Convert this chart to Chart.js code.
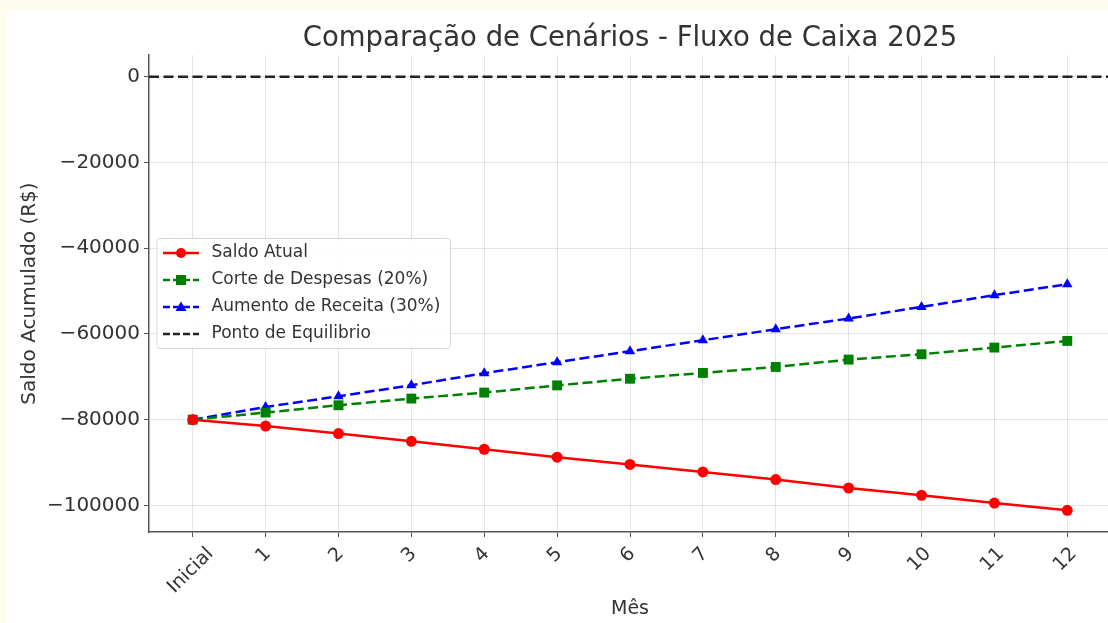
<!DOCTYPE html>
<html>
<head>
<meta charset="utf-8">
<script src="https://cdn.jsdelivr.net/npm/chart.js@4.4.1/dist/chart.umd.min.js"></script>
<style>
  html, body { margin: 0; padding: 0; background: #fdfcee; width: 1108px; height: 623px; overflow: hidden; }
  #box { position: absolute; left: 7px; top: 10px; width: 1111px; height: 613px; background: #fff; }
</style>
</head>
<body>
<div id="box"><canvas id="fluxo" width="1111" height="613"></canvas></div>
<script>
const monthLabels = ['Inicial', '1', '2', '3', '4', '5', '6', '7', '8', '9', '10', '11', '12'];
const saldoAtual = [-80000, -81500, -83250, -85050, -86900, -88750, -90450, -92200, -93980, -95940, -97640, -99440, -101140];
const corteDespesas = [-80000, -78340, -76640, -75080, -73680, -72000, -70450, -69100, -67700, -65980, -64740, -63180, -61630];
const aumentoReceita = [-80000, -77040, -74540, -71970, -69170, -66600, -64030, -61470, -58900, -56400, -53690, -50960, -48390];
const equilibrio = 0;
const yTicks = [0, -20000, -40000, -60000, -80000, -100000];
const xMin = -0.6, xMax = 12.6;
const yMin = -106200, yMax = 5060;

const FONT = 'DejaVu Sans';
const TEXT = '#333';

// legend handles: short line + marker, like the matplotlib legend
function handle(color, dash, marker) {
  const c = document.createElement('canvas');
  c.width = 36; c.height = 16;
  const g = c.getContext('2d');
  g.strokeStyle = color; g.fillStyle = color; g.lineWidth = 2.5;
  g.setLineDash(dash);
  g.beginPath(); g.moveTo(0, 8); g.lineTo(36, 8); g.stroke();
  g.setLineDash([]);
  if (marker === 'circle') { g.beginPath(); g.arc(18, 8, 5, 0, Math.PI * 2); g.fill(); }
  if (marker === 'rect') g.fillRect(13, 3, 10, 10);
  if (marker === 'triangle') { g.beginPath(); g.moveTo(18, 2.5); g.lineTo(23.5, 12); g.lineTo(12.5, 12); g.closePath(); g.fill(); }
  return c;
}
const dashes = [10, 4.5];
const handles = [
  handle('#ff0000', [], 'circle'),
  handle('#008000', [7, 3], 'rect'),
  handle('#0000ff', [7, 3], 'triangle'),
  handle('#222', [7, 3], null)
];

const toPoints = arr => arr.map((v, i) => ({ x: i, y: v }));

// legend in chartArea: move it into the plot box and give it a frame
const legendFrame = {
  id: 'legendFrame',
  afterLayout(chart) {
    const lg = chart.legend;
    if (!lg) return;
    const dy = chart.chartArea.top - lg.top;
    lg.top += dy; lg.bottom += dy;
    (lg.legendHitBoxes || []).forEach(h => { h.top += dy; });
    if (lg._framed) return;
    const orig = lg.draw.bind(lg);
    lg.draw = function (area) {
      const hb = lg.legendHitBoxes;
      if (hb && hb.length) {
        const l = Math.min(...hb.map(h => h.left)) - 2;
        const t = Math.min(...hb.map(h => h.top)) - 6;
        const r = Math.max(...hb.map(h => h.left + h.width)) + 10;
        const b = Math.max(...hb.map(h => h.top + h.height)) + 6;
        const ctx = chart.ctx;
        ctx.save();
        ctx.fillStyle = 'rgba(255,255,255,0.85)';
        ctx.strokeStyle = '#d6d6d6';
        ctx.lineWidth = 1;
        ctx.beginPath();
        ctx.roundRect(l, t, r - l, b - t, 3);
        ctx.fill(); ctx.stroke();
        ctx.restore();
      }
      orig(area);
    };
    lg._framed = true;
  }
};

// x tick labels rotated 45 degrees and centred on the tick
const xLabels = {
  id: 'xLabels',
  afterDraw(chart) {
    const sx = chart.scales.x;
    const ctx = chart.ctx;
    const size = 19;
    const top = chart.chartArea.bottom + 13;
    ctx.save();
    ctx.font = size + 'px "' + FONT + '"';
    ctx.fillStyle = TEXT;
    ctx.textAlign = 'center';
    ctx.textBaseline = 'middle';
    monthLabels.forEach((lab, i) => {
      const w = ctx.measureText(lab).width;
      const half = (w + size * 0.9) * Math.SQRT1_2 / 2;
      ctx.save();
      ctx.translate(sx.getPixelForValue(i) - 2, top + half);
      ctx.rotate(-Math.PI / 4);
      ctx.fillText(lab, 0, 0);
      ctx.restore();
    });
    ctx.restore();
  }
};

new Chart(document.getElementById('fluxo').getContext('2d'), {
  type: 'line',
  data: {
    datasets: [
      {
        label: 'Saldo Atual',
        data: toPoints(saldoAtual),
        borderColor: '#ff0000', backgroundColor: '#ff0000',
        borderWidth: 2.5, pointStyle: 'circle', pointRadius: 5.5, pointBorderWidth: 0
      },
      {
        label: 'Corte de Despesas (20%)',
        data: toPoints(corteDespesas),
        borderColor: '#008000', backgroundColor: '#008000',
        borderWidth: 2.5, borderDash: dashes, pointStyle: 'rect', pointRadius: 7, pointBorderWidth: 0
      },
      {
        label: 'Aumento de Receita (30%)',
        data: toPoints(aumentoReceita),
        borderColor: '#0000ff', backgroundColor: '#0000ff',
        borderWidth: 2.5, borderDash: dashes, pointStyle: 'triangle', pointRadius: 6, pointBorderWidth: 0
      },
      {
        label: 'Ponto de Equilibrio',
        data: [{ x: xMin, y: equilibrio }, { x: xMax, y: equilibrio }],
        borderColor: '#222', borderWidth: 2.5, borderDash: dashes, pointRadius: 0
      }
    ]
  },
  options: {
    responsive: false,
    animation: false,
    layout: { padding: 0 },
    scales: {
      x: {
        type: 'linear',
        min: xMin,
        max: xMax,
        afterBuildTicks: axis => { axis.ticks = monthLabels.map((_, i) => ({ value: i })); },
        afterFit: axis => { axis.height = 91; },
        ticks: { display: false },
        grid: { color: 'rgba(0,0,0,0.1)', tickColor: '#555', tickLength: 5, z: -1 },
        border: { color: '#555', width: 1.5 },
        title: {
          display: true, text: 'Mês', color: TEXT,
          font: { family: FONT, size: 19 }, padding: { top: 0, bottom: 3 }
        }
      },
      y: {
        min: yMin,
        max: yMax,
        afterBuildTicks: axis => { axis.ticks = yTicks.map(v => ({ value: v })); },
        afterFit: axis => { axis.width = 142; },
        ticks: {
          padding: 4,
          color: TEXT,
          font: { family: FONT, size: 20 },
          callback: v => (v < 0 ? '\u2212' + Math.abs(v) : String(v))
        },
        grid: { color: 'rgba(0,0,0,0.1)', tickColor: '#555', tickLength: 5, z: -1 },
        border: { color: '#555', width: 1.5 },
        title: {
          display: true, text: 'Saldo Acumulado (R$)', color: TEXT,
          font: { family: FONT, size: 20 }, padding: { top: 11, bottom: 0 }
        }
      }
    },
    plugins: {
      title: {
        display: true,
        fullSize: false,
        text: 'Comparação de Cenários - Fluxo de Caixa 2025',
        color: TEXT,
        font: { family: FONT, size: 27.5, weight: 'normal' },
        padding: { top: 12, bottom: 0 }
      },
      legend: {
        position: 'chartArea',
        labels: {
          usePointStyle: true,
          pointStyleWidth: 44,
          padding: 10,
          color: TEXT,
          font: { family: FONT, size: 17 },
          generateLabels: chart => chart.data.datasets.map((ds, i) => ({
            text: ds.label,
            pointStyle: handles[i],
            datasetIndex: i,
            fontColor: TEXT,
            hidden: false,
            lineWidth: 0,
            strokeStyle: 'transparent',
            fillStyle: 'transparent'
          }))
        }
      },
      tooltip: { enabled: false }
    }
  },
  plugins: [legendFrame, xLabels]
});
</script>
</body>
</html>
